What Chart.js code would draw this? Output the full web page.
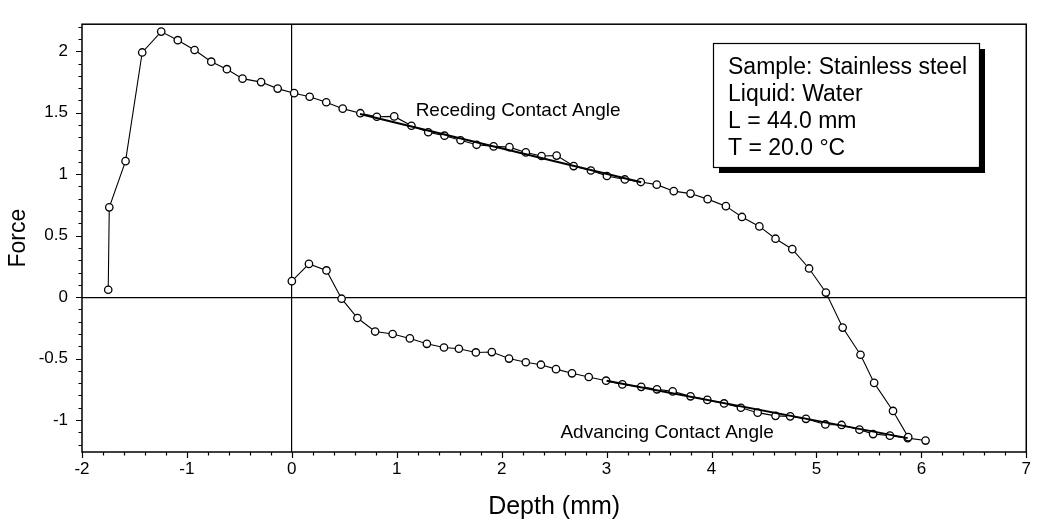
<!DOCTYPE html>
<html>
<head>
<meta charset="utf-8">
<script src="https://cdn.jsdelivr.net/npm/chart.js@4.4.0/dist/chart.umd.min.js"></script>
<style>
  html, body { margin: 0; padding: 0; background: #fff; }
</style>
</head>
<body>
<canvas id="chart" width="1038" height="529"></canvas>
<script>
// ─── Data ────────────────────────────────────────────────────────────────────

const recedingX = [-1.75, -1.74, -1.585, -1.426, -1.245, -1.087, -0.927, -0.768, -0.619, -0.47,
  -0.293, -0.135, 0.022, 0.17, 0.328, 0.485, 0.653, 0.81, 0.976, 1.14,
  1.30, 1.455, 1.608, 1.761, 1.923, 2.074, 2.23, 2.38, 2.524, 2.686,
  2.85, 3.003, 3.174, 3.326, 3.478, 3.64, 3.80, 3.963, 4.137, 4.29,
  4.456, 4.61, 4.77, 4.93, 5.09, 5.25, 5.42, 5.55, 5.73, 5.875];
const recedingY = [0.06, 0.73, 1.106, 1.99, 2.16, 2.09, 2.01, 1.915, 1.854, 1.777,
  1.749, 1.696, 1.659, 1.63, 1.585, 1.533, 1.496, 1.467, 1.47, 1.394,
  1.341, 1.313, 1.276, 1.239, 1.226, 1.22, 1.177, 1.148, 1.151, 1.066,
  1.03, 0.985, 0.957, 0.936, 0.915, 0.862, 0.842, 0.797, 0.74, 0.652,
  0.575, 0.475, 0.39, 0.233, 0.037, -0.248, -0.469, -0.698, -0.926, -1.139];

const advancingX = [0.0, 0.163, 0.33, 0.474, 0.625, 0.794, 0.961, 1.125, 1.287, 1.45,
  1.592, 1.754, 1.906, 2.07, 2.23, 2.374, 2.518, 2.67, 2.83, 2.995,
  3.15, 3.33, 3.48, 3.63, 3.80, 3.96, 4.12, 4.28, 4.44, 4.61,
  4.75, 4.90, 5.085, 5.24, 5.41, 5.54, 5.70, 5.87, 6.04];
const advancingY = [0.13, 0.27, 0.217, -0.013, -0.17, -0.28, -0.30, -0.336, -0.38, -0.41,
  -0.42, -0.45, -0.447, -0.50, -0.53, -0.55, -0.586, -0.62, -0.65, -0.68,
  -0.71, -0.73, -0.75, -0.767, -0.807, -0.836, -0.865, -0.90, -0.94, -0.966,
  -0.97, -0.99, -1.036, -1.04, -1.078, -1.114, -1.127, -1.147, -1.167];

// straight fits drawn over the linear parts
const recedingFitX = [0.65, 3.33];
const recedingFitY = [1.49, 0.935];
const advancingFitX = [3.0, 5.87];
const advancingFitY = [-0.68, -1.147];

const infoLines = ["Sample: Stainless steel", "Liquid: Water", "L = 44.0 mm", "T = 20.0 °C"];
const curveLabels = [
  { text: "Receding Contact Angle", x: 1.18, y: 1.515 },
  { text: "Advancing Contact Angle", x: 2.56, y: -1.10 },
];

const FONT = "'Liberation Sans', Arial, Helvetica, sans-serif";

function pts(xs, ys) { return xs.map((x, i) => ({ x, y: ys[i] })); }

// ─── Frame, minor ticks, labels and info box ────────────────────────────────

const decorations = {
  id: "decorations",
  afterDraw(chart) {
    const { ctx, chartArea: a, scales: { x, y } } = chart;
    ctx.save();
    ctx.strokeStyle = "#000";
    ctx.lineWidth = 1.5;
    ctx.strokeRect(a.left, a.top, a.right - a.left, a.bottom - a.top);

    // x ticks: major 1, minor 0.2
    ctx.lineWidth = 1.2;
    ctx.beginPath();
    for (let i = -10; i <= 35; i++) {
      const px = Math.round(x.getPixelForValue(i / 5)) + 0.5;
      const len = i % 5 === 0 ? 6 : 3.5;
      ctx.moveTo(px, a.bottom);
      ctx.lineTo(px, a.bottom + len);
    }
    // y ticks: major 0.5, minor 0.1
    for (let i = -12; i <= 22; i++) {
      const py = Math.round(y.getPixelForValue(i / 10)) + 0.5;
      const len = i % 5 === 0 ? 6 : 3.5;
      ctx.moveTo(a.left, py);
      ctx.lineTo(a.left - len, py);
    }
    ctx.stroke();

    // curve labels
    ctx.fillStyle = "#000";
    ctx.font = "19px " + FONT;
    ctx.textAlign = "left";
    ctx.textBaseline = "middle";
    curveLabels.forEach((l) => {
      ctx.fillText(l.text, x.getPixelForValue(l.x), y.getPixelForValue(l.y));
    });

    // info box with drop shadow
    const bx = 713, by = 43, bw = 266, bh = 124;
    ctx.fillStyle = "#000";
    ctx.fillRect(bx + 6, by + 6, bw, bh);
    ctx.fillStyle = "#fff";
    ctx.fillRect(bx, by, bw, bh);
    ctx.lineWidth = 1.2;
    ctx.strokeRect(bx + 0.5, by + 0.5, bw, bh);
    ctx.fillStyle = "#000";
    ctx.font = "23px " + FONT;
    ctx.textBaseline = "alphabetic";
    infoLines.forEach((t, i) => ctx.fillText(t, bx + 15, by + 31 + i * 27));
    ctx.restore();
  },
};

// ─── Chart ──────────────────────────────────────────────────────────────────

const zeroLine = (ctx) => (ctx.tick && ctx.tick.value === 0 ? "#000" : "rgba(0,0,0,0)");

new Chart(document.getElementById("chart"), {
  type: "scatter",
  data: {
    datasets: [
      { data: pts(recedingFitX, recedingFitY), showLine: true, borderColor: "#000", borderWidth: 2, pointRadius: 0 },
      { data: pts(advancingFitX, advancingFitY), showLine: true, borderColor: "#000", borderWidth: 2, pointRadius: 0 },
      {
        data: pts(recedingX, recedingY), showLine: true, borderColor: "#000", borderWidth: 1.1,
        pointRadius: 3.7, pointBackgroundColor: "#fff", pointBorderColor: "#000", pointBorderWidth: 1.3,
      },
      {
        data: pts(advancingX, advancingY), showLine: true, borderColor: "#000", borderWidth: 1.1,
        pointRadius: 3.7, pointBackgroundColor: "#fff", pointBorderColor: "#000", pointBorderWidth: 1.3,
      },
    ],
  },
  options: {
    responsive: false,
    animation: false,
    layout: { padding: { top: 17, right: 6, left: 0, bottom: 0 } },
    plugins: { legend: { display: false }, tooltip: { enabled: false } },
    scales: {
      x: {
        type: "linear", min: -2, max: 7,
        ticks: { stepSize: 1, color: "#000", font: { size: 17, family: FONT }, padding: 7, maxRotation: 0 },
        grid: { color: zeroLine, lineWidth: 1.2, drawTicks: false },
        border: { display: false },
        title: { display: true, text: "Depth (mm)", color: "#000", font: { size: 25, family: FONT }, padding: { top: 0, bottom: 7 } },
        afterFit: (s) => { s.height = 77; },
      },
      y: {
        type: "linear", min: -1.26, max: 2.22,
        ticks: {
          stepSize: 0.5, color: "#000", font: { size: 17, family: FONT }, padding: 14,
          callback: (v) => (Math.abs(v * 2 - Math.round(v * 2)) < 1e-6 ? String(v) : ""),
        },
        grid: { color: zeroLine, lineWidth: 1.2, drawTicks: false },
        border: { display: false },
        title: { display: true, text: "Force", color: "#000", font: { size: 23, family: FONT }, padding: { top: 5, bottom: 0 } },
        afterFit: (s) => { s.width = 82; },
      },
    },
  },
  plugins: [decorations],
});
</script>
</body>
</html>
